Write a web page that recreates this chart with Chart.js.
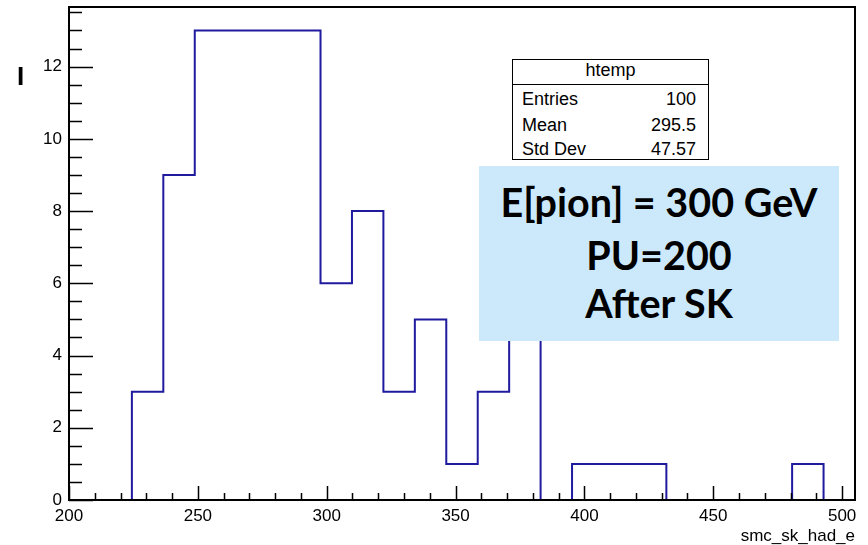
<!DOCTYPE html>
<html>
<head>
<meta charset="utf-8">
<script src="https://cdn.jsdelivr.net/npm/chart.js@4.4.0/dist/chart.umd.min.js"></script>
<style>
  body { margin: 0; background: #fff; }
  #wrap { position: relative; width: 868px; height: 545px; overflow: hidden; }
  canvas { position: absolute; left: 0; top: 0; }
  .stats {
    position: absolute; left: 512px; top: 59px; width: 195px; height: 99px;
    border: 1px solid #000; background: #fff;
    font-family: "Liberation Sans", Arial, sans-serif; font-size: 18px; color: #000;
  }
  .stats .sep { position: absolute; left: 0; right: 0; top: 24px; border-top: 1px solid #000; }
  .stats .t { position: absolute; line-height: 18px; white-space: nowrap; }
  .note {
    position: absolute; left: 479px; top: 166px; width: 360px; height: 175px;
    background: #cbe9fb; text-align: center;
    font-family: Lato, "Open Sans", sans-serif; font-weight: bold; font-size: 39.5px; color: #000;
  }
  .note div { position: absolute; left: 0; right: 0; line-height: 39.5px; white-space: nowrap; }
  .mark {
    position: absolute; left: 17px; top: 61px;
    font-family: "Liberation Sans", Arial, sans-serif; font-weight: bold; font-size: 26px;
  }
</style>
</head>
<body>
<div id="wrap">
  <canvas id="hist" width="868" height="545"></canvas>
  <div class="mark">I</div>
  <div class="stats">
    <div class="t" style="left:0;right:0;top:1px;text-align:center">htemp</div>
    <div class="sep"></div>
    <div class="t" style="left:9px;top:30px">Entries</div>
    <div class="t" style="right:12px;top:30px" id="entries"></div>
    <div class="t" style="left:9px;top:56px">Mean</div>
    <div class="t" style="right:12px;top:56px" id="mean"></div>
    <div class="t" style="left:9px;top:80px">Std Dev</div>
    <div class="t" style="right:12px;top:80px" id="stddev"></div>
  </div>
  <div class="note">
    <div style="top:16px">E[pion] = 300 GeV</div>
    <div style="top:69px">PU=200</div>
    <div style="top:117px">After SK</div>
  </div>
</div>
<script>
// Histogram binning (htemp, 25 bins)
const binLow = 200;
const binWidth = 12.2;
const counts = [0, 0, 3, 9, 13, 13, 13, 13, 6, 8, 3, 5, 1, 3, 6, 0, 1, 1, 1, 0, 0, 0, 0, 1, 0];

// Axis ranges and tick labels
const xRange = [200, 505];
const yRange = [0, 13.65];
const xTicks = [200, 250, 300, 350, 400, 450, 500];
const yTicks = [0, 2, 4, 6, 8, 10, 12];
const xTitle = "smc_sk_had_e";

// Stats box values
const statEntries = "100";
const statMean = "295.5";
const statStdDev = "47.57";

document.getElementById("entries").textContent = statEntries;
document.getElementById("mean").textContent = statMean;
document.getElementById("stddev").textContent = statStdDev;

const lineColor = "#1f1a9e";
const labelFont = { family: "'Liberation Sans', Arial, sans-serif", size: 17 };

// bin edges -> step points
const points = counts.map((c, i) => ({ x: binLow + i * binWidth, y: c }));
points.push({ x: binLow + counts.length * binWidth, y: 0 });

// ROOT style frame with inward ticks, drawn over the histogram
const rootFrame = {
  id: "rootFrame",
  afterDatasetsDraw(chart) {
    const { ctx, chartArea: a, scales } = chart;
    const xs = scales.x, ys = scales.y;
    ctx.save();
    ctx.strokeStyle = "#000";
    ctx.lineWidth = 1.5;
    ctx.beginPath();
    for (let v = 200; v <= 500.01; v += 10) {
      const px = Math.round(xs.getPixelForValue(v)) + 0.5;
      const len = Math.abs(v % 50) < 0.01 ? 14 : 7;
      ctx.moveTo(px, a.bottom);
      ctx.lineTo(px, a.bottom - len);
    }
    for (let v = 0; v <= 13.5; v += 0.5) {
      const py = Math.round(ys.getPixelForValue(v)) + 0.5;
      const len = Math.abs(v % 2) < 0.01 ? 24 : 13;
      ctx.moveTo(a.left, py);
      ctx.lineTo(a.left + len, py);
    }
    ctx.stroke();
    ctx.lineWidth = 2;
    ctx.strokeRect(a.left, a.top, a.right - a.left, a.bottom - a.top);
    ctx.restore();
  },
};

new Chart(document.getElementById("hist"), {
  type: "line",
  data: {
    datasets: [
      {
        data: points,
        stepped: true,
        borderColor: lineColor,
        borderWidth: 2,
        pointRadius: 0,
        fill: false,
      },
    ],
  },
  options: {
    responsive: false,
    animation: false,
    devicePixelRatio: 1,
    layout: { padding: { top: 7, right: 13, left: 0, bottom: 0 } },
    plugins: { legend: { display: false }, tooltip: { enabled: false } },
    scales: {
      x: {
        type: "linear",
        min: xRange[0],
        max: xRange[1],
        afterBuildTicks: (s) => { s.ticks = xTicks.map((v) => ({ value: v })); },
        afterFit: (s) => { s.height = 45; s.paddingLeft = 0; s.paddingRight = 0; },
        grid: { display: false, drawTicks: false },
        border: { display: false },
        ticks: { font: labelFont, color: "#000", padding: 6, maxRotation: 0, autoSkip: false },
        title: {
          display: true,
          text: xTitle,
          align: "end",
          color: "#000",
          font: { family: labelFont.family, size: 17, lineHeight: 1 },
          padding: 0,
        },
      },
      y: {
        min: yRange[0],
        max: yRange[1],
        afterBuildTicks: (s) => { s.ticks = yTicks.map((v) => ({ value: v })); },
        afterFit: (s) => { s.width = 69; s.paddingTop = 0; s.paddingBottom = 0; },
        grid: { display: false, drawTicks: false },
        border: { display: false },
        ticks: { font: labelFont, color: "#000", padding: 7 },
      },
    },
  },
  plugins: [rootFrame],
});
</script>
</body>
</html>
